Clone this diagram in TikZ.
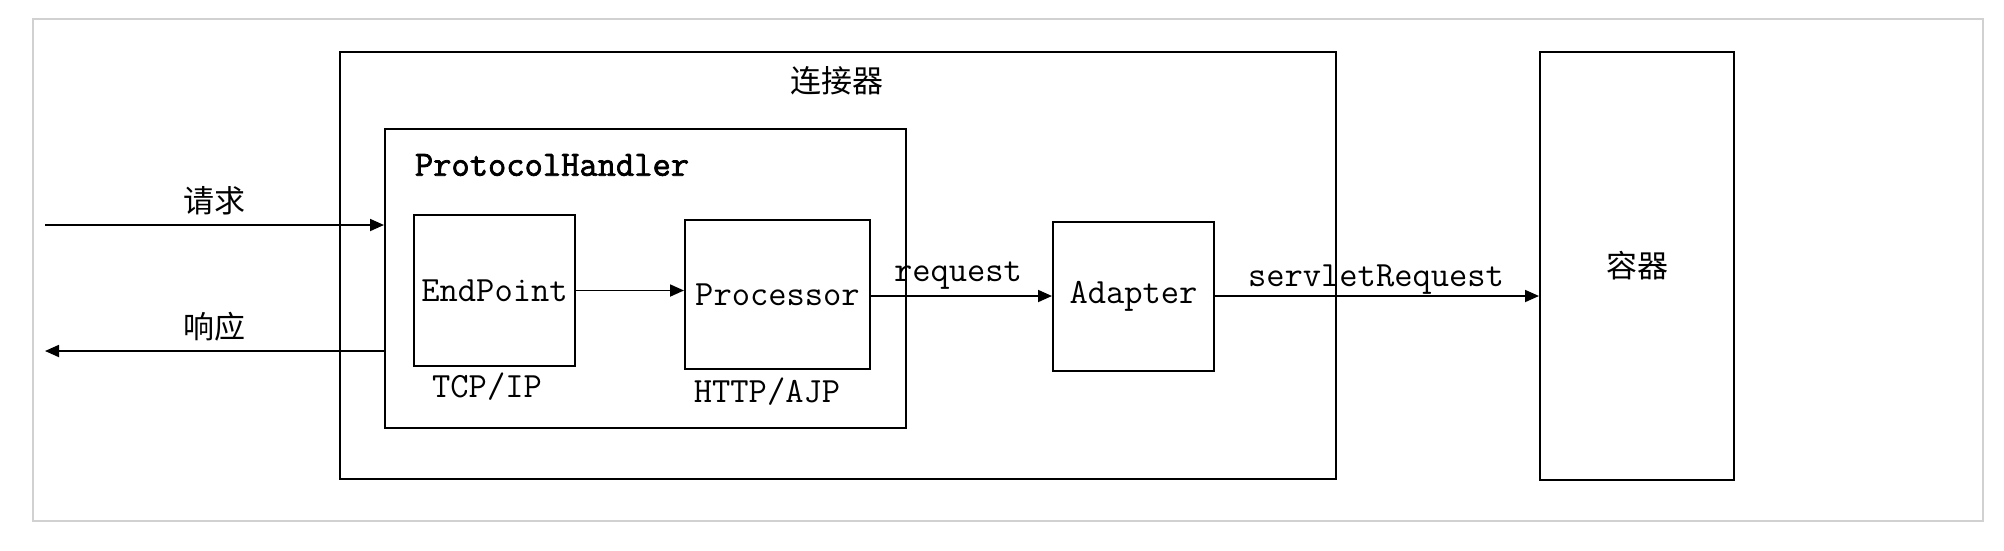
\documentclass[tikz,border=0pt]{standalone}
\usepackage{fontspec}
\newfontfamily\monofont{Latin Modern Mono}
\newfontfamily\monoboldfont[FakeBold=2]{Latin Modern Mono}
\newfontfamily\cjk{Noto Sans CJK SC}
\usetikzlibrary{arrows.meta}
\begin{document}
\begin{tikzpicture}[x=1pt,y=-1pt,
  box/.style={draw, line width=2pt, inner sep=0pt},
  arr/.style={-{Triangle[length=14pt,width=12pt]}, line width=1.8pt},
  mono/.style={font=\fontsize{35.5}{35.5}\selectfont\monofont},
  monob/.style={font=\fontsize{35.5}{35.5}\selectfont\monoboldfont},
  zh/.style={font=\fontsize{31}{31}\selectfont\cjk}]
\useasboundingbox (0,0) rectangle (2004,550);
\draw[black!18, line width=2pt] (33,19) rectangle (1983,521);
\node[box, minimum width=996pt, minimum height=427pt] (conn) at (838,265.5) {};
\node[zh] (connlbl) at (837,81) {连接器};
\node[box, minimum width=521pt, minimum height=299pt] (ph) at (645.5,278.5) {};
\node[monob] (phlbl) at (552,165) {ProtocolHandler};
\node[box, mono, minimum width=161pt, minimum height=151pt] (ep) at (494.5,290.5) {EndPoint};
\node[box, mono, minimum width=185pt, minimum height=149pt] (proc) at (777.5,294.5) {Processor};
\node[box, mono, minimum width=161pt, minimum height=149pt] (adp) at (1133.5,296) {Adapter};
\node[box, zh, minimum width=194pt, minimum height=428pt] (cont) at (1637,266) {容器};
\node[mono] (tcp) at (487,387) {TCP/IP};
\node[mono] (http) at (767,392) {HTTP/AJP};
\coordinate (reqsrc) at (45,225);
\coordinate (respdst) at (45,351);
\draw[arr] (reqsrc) -- (reqsrc -| ph.west) node[midway, above=6pt, zh] (reqlbl) {请求};
\draw[arr] (respdst -| ph.west) -- (respdst) node[midway, above=6pt, zh] (resplbl) {响应};
\draw[arr] (ep.east) -- (ep.east -| proc.west);
\draw[arr] (proc.east |- adp.west) -- (adp.west);
\draw[arr] (adp.east) -- (adp.east -| cont.west);
\node[mono] (reqtxt) at (958,276) {request};
\node[mono] (srtxt) at (1376,280) {servletRequest};
\end{tikzpicture}
\end{document}
